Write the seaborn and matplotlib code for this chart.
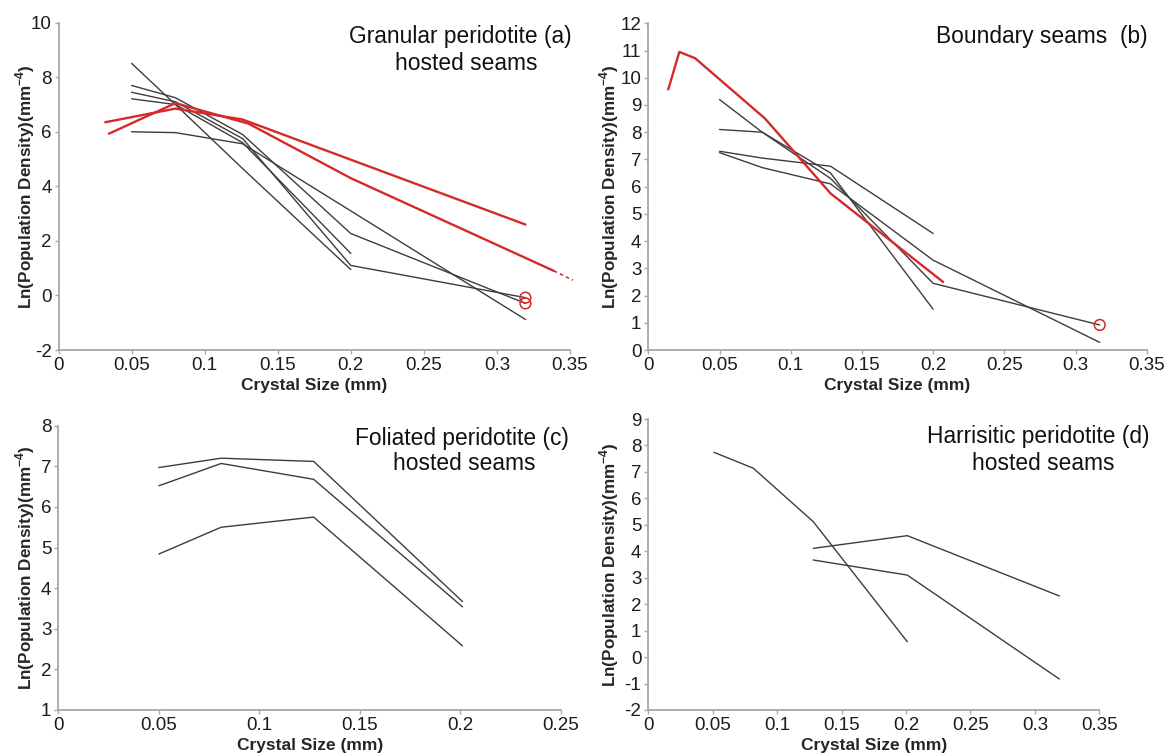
import matplotlib
matplotlib.use("Agg")
import matplotlib.pyplot as plt
import seaborn as sns
import pandas as pd
from matplotlib.ticker import MultipleLocator, FuncFormatter

# ---------------------------------------------------------------- data
# (a) granular peridotite hosted seams
a_x5 = [0.05, 0.08, 0.126, 0.2, 0.3195]
a_x4 = [0.05, 0.08, 0.126, 0.2]
a_black_1 = [8.51, 7.0, 4.65, 0.95]
a_black_2 = [7.7, 7.25, 5.9, 2.27, -0.29]
a_black_3 = [7.45, 7.1, 5.75, 1.1, -0.08]
a_black_4 = [7.21, 7.0, 5.6, 1.54]
a_black_5 = [6.0, 5.97, 5.56, 3.1, -0.88]
a_red_1_x = [0.032, 0.08, 0.126, 0.3195]
a_red_1_y = [6.35, 6.85, 6.45, 2.6]
a_red_2_x = [0.0345, 0.08, 0.13, 0.2, 0.339]
a_red_2_y = [5.93, 7.05, 6.3, 4.3, 0.9]
a_red_2_ext_x = [0.339, 0.352]
a_red_2_ext_y = [0.9, 0.56]

# (b) boundary seams
b_x5 = [0.05, 0.08, 0.128, 0.2, 0.317]
b_x4 = [0.05, 0.08, 0.128, 0.2]
b_black_1 = [9.2, 8.0, 6.5, 1.5]
b_black_2 = [8.1, 8.0, 6.3, 2.45, 0.92]
b_black_3 = [7.25, 6.7, 6.1, 3.3, 0.28]
b_black_4 = [7.3, 7.05, 6.75, 4.28]
b_red_x = [0.014, 0.0218, 0.0328, 0.082, 0.128, 0.207]
b_red_y = [9.57, 10.95, 10.72, 8.5, 5.75, 2.5]

# (c) foliated peridotite hosted seams
c_x = [0.05, 0.081, 0.127, 0.201]
c_black_1 = [6.97, 7.2, 7.12, 3.67]
c_black_2 = [6.52, 7.07, 6.68, 3.54]
c_black_3 = [4.84, 5.5, 5.75, 2.58]

# (d) harrisitic peridotite hosted seams
d_x_1 = [0.051, 0.0815, 0.128, 0.201]
d_black_1 = [7.74, 7.14, 5.12, 0.58]
d_x_2 = [0.128, 0.201, 0.319]
d_black_2 = [4.11, 4.59, 2.31]
d_black_3 = [3.67, 3.10, -0.83]

# ---------------------------------------------------------------- style
sns.set_theme(style="ticks")
plt.rcParams["font.family"] = ["Liberation Sans", "DejaVu Sans"]
plt.rcParams["mathtext.fontset"] = "custom"
plt.rcParams["mathtext.rm"] = "Liberation Sans"
plt.rcParams["mathtext.bf"] = "Liberation Sans:bold"

BLACK = "#3d3d3d"
RED = "#d42a2a"
SPINE = "#a8a8a8"
W, H = 1170, 756

fig = plt.figure(figsize=(W / 100, H / 100), dpi=100)


def add_axes(left, right, top, bottom):
    ax = fig.add_axes([left / W, 1 - bottom / H, (right - left) / W, (bottom - top) / H])
    ax._px = (left, right)
    return ax


def fmt(v, _pos):
    return "%g" % round(v, 4)


def style(ax, xmax, ymin, ymax, ystep, ylabel_x):
    ax.set_xlim(0, xmax)
    ax.set_ylim(ymin, ymax)
    ax.xaxis.set_major_locator(MultipleLocator(0.05))
    ax.yaxis.set_major_locator(MultipleLocator(ystep))
    ax.xaxis.set_major_formatter(FuncFormatter(fmt))
    ax.yaxis.set_major_formatter(FuncFormatter(fmt))
    for s in ("top", "right"):
        ax.spines[s].set_visible(False)
    for s in ("left", "bottom"):
        ax.spines[s].set_color(SPINE)
        ax.spines[s].set_linewidth(1.3)
    ax.tick_params(direction="out", length=3, width=1, color=SPINE,
                   labelsize=13.5, labelcolor="#1c1c1c", pad=2)
    ax.set_xlabel("Crystal Size (mm)", fontsize=12.5, fontweight="bold",
                  labelpad=3)
    ax.set_ylabel("Ln(Population Density)(mm$^{\\mathbf{-4}}$)", fontsize=12.3,
                  fontweight="bold")
    left, right = ax._px
    ax.yaxis.set_label_coords((ylabel_x - left) / (right - left), 0.5)
    ax.set_facecolor("white")


def line(ax, xs, ys, color=BLACK, lw=1.0, **kw):
    df = pd.DataFrame({"size": xs, "lnn": ys})
    sns.lineplot(data=df, x="size", y="lnn", color=color, lw=lw, sort=False,
                 estimator=None, ax=ax, **kw)


def end_circle(ax, x, y):
    sns.scatterplot(x=[x], y=[y], ax=ax, s=60, facecolor="none",
                    edgecolor=RED, linewidth=1.1, zorder=5)


def caption(x, y, s):
    fig.text(x / W, 1 - y / H, s, ha="center", va="center", fontsize=16.4,
             color="#111111")


# ---------------------------------------------------------------- (a)
ax_a = add_axes(58.5, 570, 22.7, 350)
line(ax_a, a_x4, a_black_1)
line(ax_a, a_x5, a_black_2)
line(ax_a, a_x5, a_black_3)
line(ax_a, a_x4, a_black_4)
line(ax_a, a_x5, a_black_5)
line(ax_a, a_red_1_x, a_red_1_y, color=RED, lw=1.7)
line(ax_a, a_red_2_x, a_red_2_y, color=RED, lw=1.7)
line(ax_a, a_red_2_ext_x, a_red_2_ext_y, color=RED, lw=1.2,
     linestyle=(0, (2, 2)), clip_on=False)
end_circle(ax_a, a_x5[-1], a_black_2[-1])
end_circle(ax_a, a_x5[-1], a_black_3[-1])
style(ax_a, 0.35, -2, 10, 2, 37)
caption(460, 37, "Granular peridotite (a)")
caption(466, 63, "hosted seams")

# ---------------------------------------------------------------- (b)
ax_b = add_axes(648.3, 1146.7, 23.3, 350)
line(ax_b, b_x4, b_black_1)
line(ax_b, b_x5, b_black_2)
line(ax_b, b_x5, b_black_3)
line(ax_b, b_x4, b_black_4)
line(ax_b, b_red_x, b_red_y, color=RED, lw=1.7)
end_circle(ax_b, b_x5[-1], b_black_2[-1])
style(ax_b, 0.35, 0, 12, 1, 621)
caption(1042, 37, "Boundary seams  (b)")

# ---------------------------------------------------------------- (c)
ax_c = add_axes(58.3, 561, 425.7, 710)
line(ax_c, c_x, c_black_1)
line(ax_c, c_x, c_black_2)
line(ax_c, c_x, c_black_3)
style(ax_c, 0.25, 1, 8, 1, 37)
caption(462, 438, "Foliated peridotite (c)")
caption(464, 464, "hosted seams")

# ---------------------------------------------------------------- (d)
ax_d = add_axes(648.3, 1099.3, 419, 710)
line(ax_d, d_x_1, d_black_1)
line(ax_d, d_x_2, d_black_2)
line(ax_d, d_x_2, d_black_3)
style(ax_d, 0.35, -2, 9, 1, 621)
caption(1038, 437, "Harrisitic peridotite (d)")
caption(1043, 463, "hosted seams")

fig.savefig("out.png", dpi=100, facecolor="white")
